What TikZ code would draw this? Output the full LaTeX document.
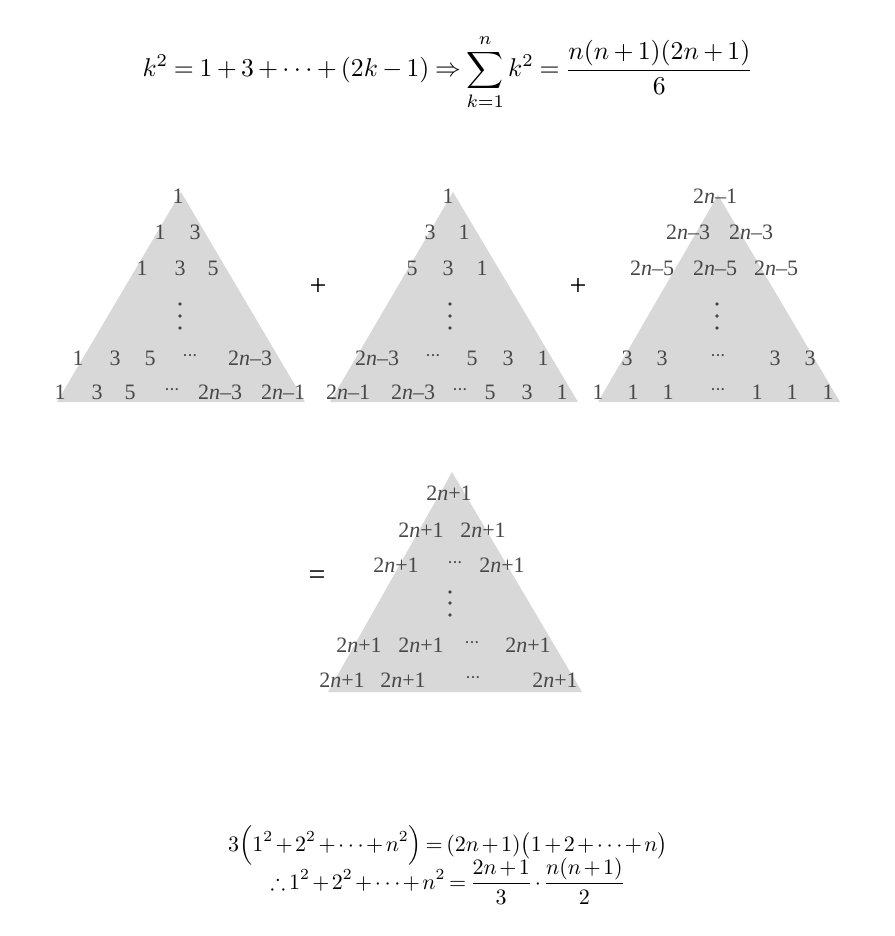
\documentclass[tikz,border=0pt]{standalone}
\usepackage{amsmath,amssymb}
\usepackage{fontspec}
\newfontfamily\trifont{Liberation Serif}
\definecolor{trifill}{RGB}{216,216,216}
\definecolor{tgray}{RGB}{72,72,72}
\newcommand\mydots{\raisebox{3.5pt}{\fontsize{18}{18}\selectfont\textperiodcentered\kern-1.2pt\textperiodcentered\kern-1.2pt\textperiodcentered}}
\newcommand\tn[1]{2\textit{n}\textendash#1}
\newcommand\tp{2\textit{n}+1}
\tikzset{
  tri/.style={fill=trifill, draw=none},
  num/.style={text=tgray, font=\trifont\fontsize{22}{26}\selectfont, inner sep=0pt, anchor=base},
  op/.style={text=black, font=\trifont\fontsize{30}{34}\selectfont, inner sep=0pt},
  eqtop/.style={text=black, inner sep=0pt, anchor=base, scale=2.57, transform shape},
  eqbot/.style={text=black, inner sep=0pt, anchor=base, scale=2.2, transform shape},
  vdot/.style={fill=tgray, draw=none}
}
\begin{document}
\begin{tikzpicture}[x=1pt,y=-1pt]
\useasboundingbox (0,0) rectangle (894,936);
% triangles
\fill[tri] (181,192) -- (305,402) -- (57,402) -- cycle;
\fill[tri] (453,192) -- (578,402) -- (330,402) -- cycle;
\fill[tri] (718,195) -- (840,402) -- (598,402) -- cycle;
\fill[tri] (452,472) -- (582,692) -- (328,692) -- cycle;

% top equation
\node[eqtop] (eqA) at (448,77) {$\medmuskip=3mu\thickmuskip=4mu\displaystyle k^2=1+3+\cdots+(2k-1)\Rightarrow\sum_{k=1}^{n}k^2=\frac{n(n+1)(2n+1)}{6}$};

% triangle 1
\node[num] (a11) at (178,204) {1};
\node[num] (a21) at (160,239) {1};
\node[num] (a22) at (195,239) {3};
\node[num] (a31) at (142,275) {1};
\node[num] (a32) at (180,275) {3};
\node[num] (a33) at (213,275) {5};
\node[num] (a51) at (78,365) {1};
\node[num] (a52) at (115,365) {3};
\node[num] (a53) at (150,365) {5};
\node[num] (a54) at (190,365) {\mydots};
\node[num] (a55) at (250,365) {\tn{3}};
\node[num] (a61) at (60,399) {1};
\node[num] (a62) at (97,399) {3};
\node[num] (a63) at (130,399) {5};
\node[num] (a64) at (172,399) {\mydots};
\node[num] (a65) at (220,399) {\tn{3}};
\node[num] (a66) at (283,399) {\tn{1}};
\foreach \yy in {304,316,328} \fill[vdot] (180,\yy) circle (1.8);

% plus 1
\node[op] (plusA) at (318,287) {+};

% triangle 2
\node[num] (b11) at (448,204) {1};
\node[num] (b21) at (430,239) {3};
\node[num] (b22) at (464,239) {1};
\node[num] (b31) at (412,275) {5};
\node[num] (b32) at (448,275) {3};
\node[num] (b33) at (482,275) {1};
\node[num] (b51) at (377,365) {\tn{3}};
\node[num] (b52) at (433,365) {\mydots};
\node[num] (b53) at (472,365) {5};
\node[num] (b54) at (508,365) {3};
\node[num] (b55) at (543,365) {1};
\node[num] (b61) at (348,399) {\tn{1}};
\node[num] (b62) at (413,399) {\tn{3}};
\node[num] (b63) at (460,399) {\mydots};
\node[num] (b64) at (490,399) {5};
\node[num] (b65) at (527,399) {3};
\node[num] (b66) at (562,399) {1};
\foreach \yy in {304,316,328} \fill[vdot] (450,\yy) circle (1.8);

% plus 2
\node[op] (plusB) at (578,287) {+};

% triangle 3
\node[num] (c11) at (715,204) {\tn{1}};
\node[num] (c21) at (688,239) {\tn{3}};
\node[num] (c22) at (751,239) {\tn{3}};
\node[num] (c31) at (652,275) {\tn{5}};
\node[num] (c32) at (715,275) {\tn{5}};
\node[num] (c33) at (776,275) {\tn{5}};
\node[num] (c51) at (627,365) {3};
\node[num] (c52) at (662,365) {3};
\node[num] (c53) at (718,365) {\mydots};
\node[num] (c54) at (775,365) {3};
\node[num] (c55) at (810,365) {3};
\node[num] (c61) at (598,399) {1};
\node[num] (c62) at (633,399) {1};
\node[num] (c63) at (668,399) {1};
\node[num] (c64) at (718,399) {\mydots};
\node[num] (c65) at (757,399) {1};
\node[num] (c66) at (792,399) {1};
\node[num] (c67) at (828,399) {1};
\foreach \yy in {304,316,328} \fill[vdot] (717,\yy) circle (1.8);

% equals
\node[op] (eq) at (317,578) {=};

% triangle 4
\node[num] (d11) at (449,500) {\tp};
\node[num] (d21) at (421,537) {\tp};
\node[num] (d22) at (483,537) {\tp};
\node[num] (d31) at (396,572) {\tp};
\node[num] (d32) at (455,572) {\mydots};
\node[num] (d33) at (502,572) {\tp};
\node[num] (d51) at (359,652) {\tp};
\node[num] (d52) at (421,652) {\tp};
\node[num] (d53) at (472,652) {\mydots};
\node[num] (d54) at (528,652) {\tp};
\node[num] (d61) at (342,687) {\tp};
\node[num] (d62) at (403,687) {\tp};
\node[num] (d63) at (473,687) {\mydots};
\node[num] (d64) at (555,687) {\tp};
\foreach \yy in {592,603,615} \fill[vdot] (450,\yy) circle (1.8);

% bottom equations
\node[eqbot] (eqB) at (448,851) {$\medmuskip=2mu\thickmuskip=3mu\displaystyle 3\Bigl(1^2+2^2+\cdots+n^2\Bigr)=(2n+1)\bigl(1+2+\cdots+n\bigr)$};
\node[eqbot] (eqC) at (448,889) {$\medmuskip=2mu\thickmuskip=3mu\displaystyle \therefore 1^2+2^2+\cdots+n^2=\frac{2n+1}{3}\cdot\frac{n(n+1)}{2}$};
\end{tikzpicture}
\end{document}
